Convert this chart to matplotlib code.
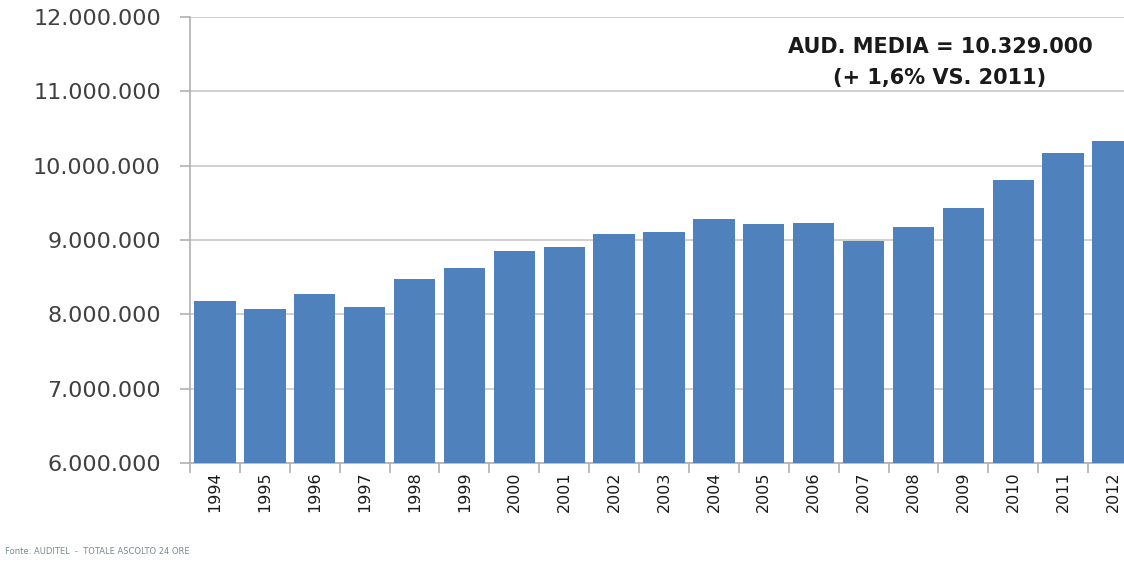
import matplotlib
matplotlib.use("Agg")
import matplotlib.pyplot as plt
from matplotlib.ticker import FuncFormatter, FixedLocator
import numpy as np

years = ["1994", "1995", "1996", "1997", "1998", "1999", "2000", "2001", "2002", "2003",
         "2004", "2005", "2006", "2007", "2008", "2009", "2010", "2011", "2012"]
audience = [8180000, 8070000, 8280000, 8100000, 8470000, 8620000, 8850000, 8910000, 9080000, 9110000,
            9280000, 9210000, 9230000, 8990000, 9180000, 9430000, 9810000, 10170000, 10329000]
y_ticks = [6000000, 7000000, 8000000, 9000000, 10000000, 11000000, 12000000]
annotation_lines = ["AUD. MEDIA = 10.329.000", "(+ 1,6% VS. 2011)"]
source_note = "Fonte: AUDITEL  -  TOTALE ASCOLTO 24 ORE"

W, H = 1124, 562
fig = plt.figure(figsize=(W / 100, H / 100), dpi=100)
left_px, right_px, top_px, bottom_px = 190, 1138, 17, 463
ax = fig.add_axes([left_px / W, 1 - bottom_px / H, (right_px - left_px) / W, (bottom_px - top_px) / H])

x = np.arange(len(years))
ax.bar(x, audience, width=0.83, color="#4F81BD", zorder=3)

ax.set_xlim(-0.5, len(years) - 0.5)
ax.set_ylim(y_ticks[0], y_ticks[-1])
ax.set_yticks(y_ticks)
ax.yaxis.set_major_formatter(FuncFormatter(lambda v, p: f"{int(v):,}".replace(",", ".")))
ax.grid(axis="y", color="#c8c8c8", linewidth=1.2, zorder=0)
ax.set_axisbelow(True)

ax.set_xticks(x)
ax.set_xticklabels(years, rotation=90, fontsize=11.5, color="#1a1a1a")
ax.xaxis.set_minor_locator(FixedLocator(np.arange(-0.5, len(years), 1.0)))
ax.tick_params(axis="x", which="major", length=0, pad=6)
ax.tick_params(axis="x", which="minor", length=7, color="#b0b0b0", width=1.2)
ax.tick_params(axis="y", length=7, color="#b0b0b0", width=1.2, labelsize=16, labelcolor="#404040", pad=14)

for s in ["top", "right"]:
    ax.spines[s].set_visible(False)
for s in ["left", "bottom"]:
    ax.spines[s].set_color("#b0b0b0")
    ax.spines[s].set_linewidth(1.2)

fig.text(940 / W, 1 - 47 / H, annotation_lines[0], ha="center", va="center",
         fontsize=15, fontweight="bold", color="#1a1a1a")
fig.text(940 / W, 1 - 78 / H, annotation_lines[1], ha="center", va="center",
         fontsize=15, fontweight="bold", color="#1a1a1a")
fig.text(5 / W, 1 - 551 / H, source_note, ha="left", va="center", fontsize=6, color="#7a8a90")

fig.savefig("out.png", dpi=100)
